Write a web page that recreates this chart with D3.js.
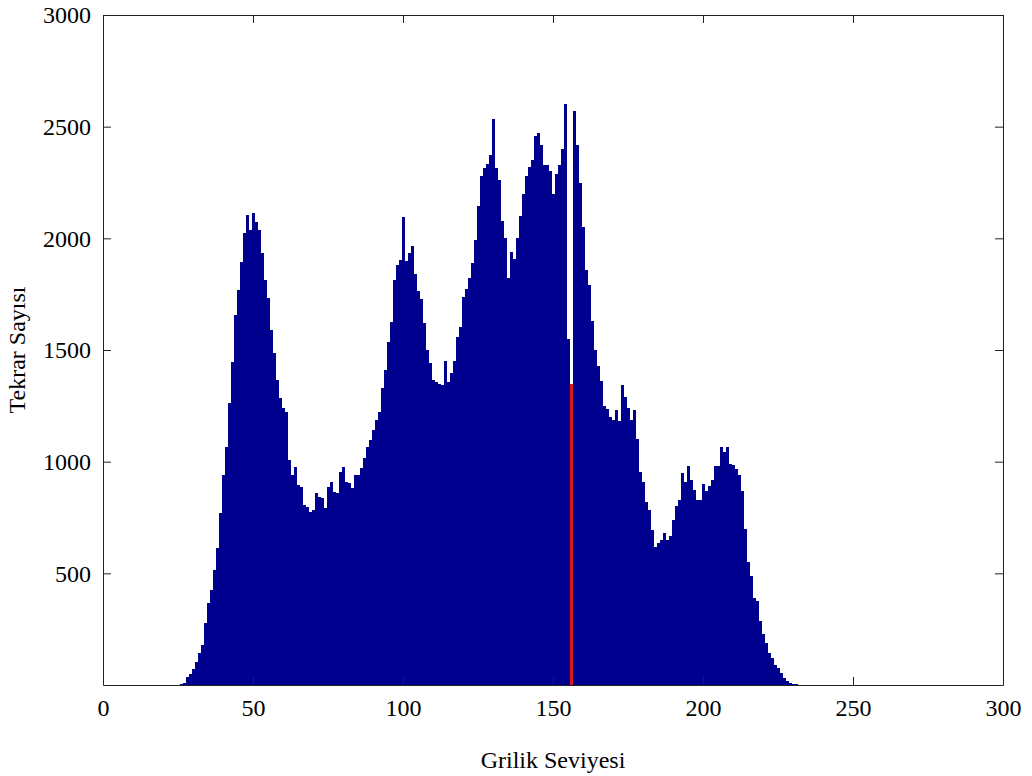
<!DOCTYPE html>
<html>
<head>
<meta charset="utf-8">
<script src="https://cdn.jsdelivr.net/npm/d3@7"></script>
<style>
  html, body { margin: 0; padding: 0; background: #fff; }
  svg text { font-family: "Liberation Serif", "Times New Roman", serif; fill: #000; }
</style>
</head>
<body>
<div id="chart"></div>
<script>
"use strict";

// histogram: gray level -> pixel count, levels below firstLevel / above the list are 0
var firstLevel = 26;
var counts = [
    3, 10, 34, 50, 70, 104, 142, 179, 276, 366,              // 26-35
    425, 515, 612, 769, 940, 1067, 1261, 1448, 1657, 1769,    // 36-45
    1896, 2022, 2104, 2037, 2115, 2075, 2037, 1933, 1813, 1731, // 46-55
    1590, 1485, 1366, 1284, 1239, 1224, 1007, 940, 978, 896,  // 56-65
    888, 806, 799, 776, 784, 858, 843, 836, 791, 888,         // 66-75
    910, 866, 858, 955, 978, 910, 903, 880, 940, 940,         // 76-85
    970, 1015, 1067, 1097, 1142, 1187, 1224, 1328, 1410, 1537, // 86-95
    1627, 1813, 1881, 1903, 2097, 1898, 1933, 1966, 1839, 1763, // 96-105
    1729, 1619, 1500, 1440, 1364, 1356, 1348, 1344, 1449, 1356, // 106-115
    1398, 1449, 1559, 1602, 1737, 1771, 1822, 1890, 1992, 2145, // 116-125
    2280, 2314, 2331, 2374, 2534, 2314, 2263, 2076, 2000, 1822, // 126-135
    1940, 1907, 2000, 2100, 2200, 2280, 2320, 2350, 2460, 2470, // 136-145
    2420, 2330, 2330, 2300, 2200, 2290, 2330, 2400, 2600, 1550, // 146-155
    1350, 2570, 2420, 2250, 2050, 1860, 1790, 1630, 1500, 1430, // 156-165
    1360, 1250, 1235, 1200, 1185, 1230, 1180, 1345, 1290, 1240, // 166-175
    1185, 1230, 1100, 955, 910, 820, 785, 695, 620, 635,      // 176-185
    650, 680, 650, 665, 740, 800, 830, 950, 910, 980,         // 186-195
    920, 875, 830, 830, 900, 870, 890, 920, 980, 980,         // 196-205
    1065, 1045, 1065, 990, 985, 965, 940, 870, 700, 550,      // 206-215
    490, 390, 375, 285, 230, 190, 145, 120, 90, 75,           // 216-225
    55, 32, 16, 9, 6, 3, 2, 1                                 // 226-233
];
var thresholdLevel = 156;   // drawn in red

var xTicks = [0, 50, 100, 150, 200, 250, 300];
var yTicks = [500, 1000, 1500, 2000, 2500, 3000];
var yTickLabels = ["500", "1000", "1500", "2000", "2500", "3000"];

var xTitle = "Grilik Seviyesi";
var yTitle = "Tekrar Sayısı";

var width = 1032, height = 776;
var margin = {left: 103, right: 29, top: 15, bottom: 91};

var svg = d3.select('#chart').append('svg')
    .attr('width', width)
    .attr('height', height);

var x = d3.scaleLinear().domain([0, 300]).range([margin.left, width - margin.right]);
var y = d3.scaleLinear().domain([0, 3000]).range([height - margin.bottom, margin.top]);

var bins = counts.map(function (c, i) {
    return {level: firstLevel + i, count: c};
});

var binW = x(1) - x(0);
var barColor = '#00008f';

// bars (crisp + slight overlap so no seams show between neighbours)
var barLayer = svg.append('g').attr('shape-rendering', 'crispEdges');

barLayer.selectAll('rect.bin')
    .data(bins.filter(function (d) { return d.level !== thresholdLevel; }))
    .enter().append('rect')
    .attr('class', 'bin')
    .attr('x', function (d) { return x(d.level - 0.5); })
    .attr('width', binW + 0.6)
    .attr('y', function (d) { return y(d.count); })
    .attr('height', function (d) { return y(0) - y(d.count); })
    .attr('fill', barColor);

// threshold bar
barLayer.selectAll('rect.thr')
    .data(bins.filter(function (d) { return d.level === thresholdLevel; }))
    .enter().append('rect')
    .attr('class', 'thr')
    .attr('x', function (d) { return x(d.level - 0.5) + 0.4; })
    .attr('width', binW - 0.4)
    .attr('y', function (d) { return y(d.count); })
    .attr('height', function (d) { return y(0) - y(d.count); })
    .attr('fill', '#e3161f');

// box + ticks (inward, on all four sides like matlab)
var axisColor = '#222';
var tickLen = 8;

var xAxisB = d3.axisBottom(x).tickValues(xTicks).tickSizeInner(-tickLen).tickSizeOuter(0).tickPadding(14);
var xAxisT = d3.axisTop(x).tickValues(xTicks).tickSizeInner(-tickLen).tickSizeOuter(0).tickFormat('');
var yAxisL = d3.axisLeft(y).tickValues(yTicks).tickSizeInner(-tickLen).tickSizeOuter(0).tickPadding(12)
    .tickFormat(function (d, i) { return yTickLabels[i]; });
var yAxisR = d3.axisRight(y).tickValues(yTicks).tickSizeInner(-tickLen).tickSizeOuter(0).tickFormat('');

function styleAxis(g) {
    g.select('.domain').attr('stroke', axisColor).attr('stroke-width', 1);
    g.selectAll('.tick line').attr('stroke', axisColor).attr('stroke-width', 1);
    g.selectAll('.tick text').attr('font-family', '"Liberation Serif", "Times New Roman", serif')
        .attr('font-size', 24).attr('fill', '#000');
}

svg.append('g').attr('transform', 'translate(0,' + y(0) + ')').call(xAxisB).call(styleAxis);
svg.append('g').attr('transform', 'translate(0,' + y(3000) + ')').call(xAxisT).call(styleAxis);
svg.append('g').attr('transform', 'translate(' + x(0) + ',0)').call(yAxisL).call(styleAxis);
svg.append('g').attr('transform', 'translate(' + x(300) + ',0)').call(yAxisR).call(styleAxis);

// axis titles
svg.append('text')
    .attr('x', (x(0) + x(300)) / 2)
    .attr('y', 768)
    .attr('text-anchor', 'middle')
    .attr('font-size', 24)
    .text(xTitle);

svg.append('text')
    .attr('transform', 'translate(25,' + ((y(0) + y(3000)) / 2) + ') rotate(-90)')
    .attr('text-anchor', 'middle')
    .attr('font-size', 24)
    .text(yTitle);
</script>
</body>
</html>
